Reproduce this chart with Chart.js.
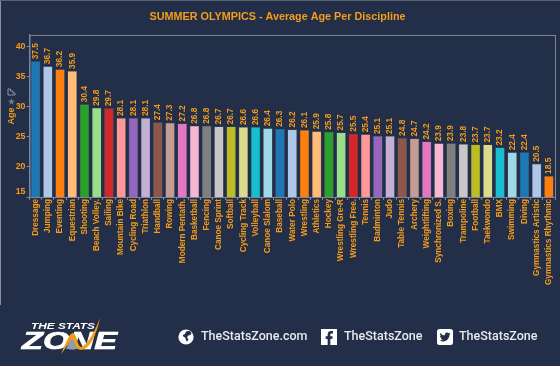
<!DOCTYPE html>
<html>
<head>
<meta charset="utf-8">
<script src="https://cdn.jsdelivr.net/npm/chart.js@4"></script>
<style>
html, body { margin: 0; padding: 0; background: #232f48; }
#wrap { position: relative; width: 560px; height: 366px; overflow: hidden; }
#chart { position: absolute; left: 0; top: 0; }
#edge { position: absolute; left: 0; top: 0; width: 1px; height: 305px; background: #8a8f98; }
#edgeTop { position: absolute; left: 0; top: 0; width: 560px; height: 1px; background: #5a6270; }
.abs { position: absolute; }
.social { position: absolute; top: 327px; font: 500 12.5px Roboto, sans-serif; color: #e8eaee; line-height: 18px; white-space: nowrap; }
</style>
</head>
<body>
<div id="wrap">
    <canvas id="chart" width="560" height="366"></canvas>
    <div id="edge"></div>
    <div id="edgeTop"></div>

    <!-- little sort and pin icons above the axis title -->
    <svg class="abs" style="left:7px;top:88px" width="9" height="18" viewBox="0 0 9 18">
        <path d="M1 1v6h7V5H6V3H3.500V1z" fill="none" stroke="#8d96a6" stroke-width="1"/>
        <path d="M4.500 10l1 2.500 2.500.3-2 1.500.5 2.500-2-1.500-2 1.500.5-2.500-2-1.500 2.500-.3z" fill="#6f7888"/>
    </svg>

    <!-- logo -->
    <svg class="abs" style="left:0;top:310px" width="130" height="56" viewBox="0 310 130 56">
        <text x="31" y="329" textLength="64" lengthAdjust="spacingAndGlyphs" font-family="Liberation Sans" font-weight="bold" font-style="italic" font-size="9" fill="#fff">THE STATS</text>
        <text x="22" y="349" textLength="95" lengthAdjust="spacingAndGlyphs" font-family="Liberation Sans" font-weight="bold" font-style="italic" font-size="23" fill="#fff" stroke="#fff" stroke-width="0.7">ZONE</text>
        <path d="M66 349L70 340L74 337L79 349Z" fill="#8d9ab0"/>
        <path d="M61 354C65 345 69 333 73 333C77 334 77 346 81 347C87 346 95 331 100 318C97 333 90 350 81 350C75 350 74 339 72 339C69 341 65 350 61 354Z" fill="#f59c1a"/>
    </svg>

    <!-- social row -->
    <svg class="abs" style="left:178px;top:329px" width="16" height="16" viewBox="0 0 16 16">
        <circle cx="8" cy="8" r="7.600" fill="#fff"/>
        <path d="M8 2.500l3.500-.8 2 2.300-1 1.800-2.500 1-1 1.700 1.500 1.700-1.500 2.500-1-1.500-.8-2.700-1.700-.8-.8-1.700 2.300-1z" fill="#232f48"/>
    </svg>
    <div class="social" style="left:201px">TheStatsZone.com</div>
    <svg class="abs" style="left:321px;top:329px" width="16" height="16" viewBox="0 0 24 24">
        <rect width="24" height="24" fill="#fff"/>
        <path d="M14 24v-9h3l.5-4H14V8.500c0-1.100.4-1.900 2-1.900h2V3.100C17.600 3 16.400 3 15 3c-2.900 0-5 1.800-5 5v3H7v4h3v9z" fill="#232f48"/>
    </svg>
    <div class="social" style="left:344px">TheStatsZone</div>
    <svg class="abs" style="left:437px;top:329px" width="16" height="16" viewBox="0 0 16 16">
        <rect width="16" height="16" rx="2.500" fill="#fff"/>
        <path transform="translate(2.500 2.500) scale(.46)" d="M23.953 4.570a10 10 0 01-2.825.775 4.958 4.958 0 002.163-2.723c-.951.555-2.005.959-3.127 1.184a4.920 4.920 0 00-8.384 4.482C7.690 8.095 4.067 6.130 1.640 3.162a4.822 4.822 0 00-.666 2.475c0 1.710.870 3.213 2.188 4.096a4.904 4.904 0 01-2.228-.616v.060a4.923 4.923 0 003.946 4.827 4.996 4.996 0 01-2.212.085 4.936 4.936 0 004.604 3.417 9.867 9.867 0 01-6.102 2.105c-.390 0-.779-.023-1.170-.067a13.995 13.995 0 007.557 2.209c9.053 0 13.998-7.496 13.998-13.985 0-.210 0-.420-.015-.630A9.935 9.935 0 0024 4.590z" fill="#232f48"/>
    </svg>
    <div class="social" style="left:459px">TheStatsZone</div>
</div>

<script>
const disciplines = ['Dressage', 'Jumping', 'Eventing', 'Equestrian', 'Shooting', 'Beach Volley.', 'Sailing', 'Mountain Bike',
    'Cycling Road', 'Triathlon', 'Handball', 'Rowing', 'Modern Pentath.', 'Basketball', 'Fencing', 'Canoe Sprint', 'Softball',
    'Cycling Track', 'Volleyball', 'Canoe Slalom', 'Baseball', 'Water Polo', 'Wrestling', 'Athletics', 'Hockey', 'Wrestling Gre-R',
    'Wrestling Free.', 'Tennis', 'Badminton', 'Judo', 'Table Tennis', 'Archery', 'Weightlifting', 'Synchronized S.', 'Boxing',
    'Trampoline', 'Football', 'Taekwondo', 'BMX', 'Swimming', 'Diving', 'Gymnastics Artistic', 'Gymnastics Rhythmic'];
const avgAge = [37.5, 36.7, 36.2, 35.9, 30.4, 29.8, 29.7, 28.1, 28.1, 28.1, 27.4, 27.3, 27.2, 26.8, 26.8, 26.7, 26.7, 26.6, 26.6,
    26.4, 26.3, 26.2, 26.1, 25.9, 25.8, 25.7, 25.5, 25.4, 25.1, 25.1, 24.8, 24.7, 24.2, 23.9, 23.9, 23.8, 23.7, 23.7, 23.2, 22.4,
    22.4, 20.5, 18.5];
const palette = ['#1f77b4', '#aec7e8', '#ff7f0e', '#ffbb78', '#2ca02c', '#98df8a', '#d62728', '#ff9896', '#9467bd', '#c5b0d5',
    '#8c564b', '#c49c94', '#e377c2', '#f7b6d2', '#7f7f7f', '#c7c7c7', '#bcbd22', '#dbdb8d', '#17becf', '#9edae5'];
const ageTicks = [15, 20, 25, 30, 35, 40];

const ORANGE = '#f59c1a';
const AXIS = '#7d8799';
const FONT = '"Liberation Sans", Arial, sans-serif';

// no datalabels plugin here, so the rotated values are drawn by hand
const barValues = {
    id: 'barValues',
    afterDatasetsDraw(chart) {
        const ctx = chart.ctx;
        const meta = chart.getDatasetMeta(0);
        ctx.save();
        ctx.fillStyle = ORANGE;
        ctx.font = 'bold 8.3px ' + FONT;
        ctx.textAlign = 'left';
        ctx.textBaseline = 'middle';
        meta.data.forEach((bar, i) => {
            ctx.save();
            ctx.translate(bar.x, bar.y - 2);
            ctx.rotate(-Math.PI / 2);
            ctx.fillText(avgAge[i].toFixed(1), 0, 0);
            ctx.restore();
        });
        ctx.restore();
    }
};

const frame = {
    id: 'frame',
    beforeDraw(chart) {
        // lowest tick label sits above its tick, as in the original
        const items = chart.scales.y.getLabelItems();
        if (items[0] && !items[0].moved) {
            items[0].options.translation[1] -= 5;
            items[0].moved = true;
        }
    },
    afterDraw(chart) {
        const a = chart.chartArea;
        const ctx = chart.ctx;
        ctx.save();
        ctx.strokeStyle = AXIS;
        ctx.lineWidth = 1;
        ctx.strokeRect(a.left + 0.5, a.top + 0.5, a.right - a.left, a.bottom - a.top);
        ctx.restore();
    }
};

new Chart(document.getElementById('chart').getContext('2d'), {
    type: 'bar',
    data: {
        labels: disciplines,
        datasets: [{
            data: avgAge,
            backgroundColor: disciplines.map((d, i) => palette[i % palette.length]),
            borderColor: 'rgba(125,135,153,0.5)',
            borderWidth: 0.5,
            barPercentage: 0.78,
            categoryPercentage: 1
        }]
    },
    options: {
        responsive: false,
        animation: false,
        layout: { padding: { right: 5, top: 0, left: 0, bottom: 0 } },
        plugins: {
            legend: { display: false },
            tooltip: { enabled: false },
            title: {
                display: true,
                text: 'SUMMER OLYMPICS - Average Age Per Discipline',
                color: ORANGE,
                font: { family: FONT, size: 10.8, weight: 'bold' },
                padding: { top: 11, bottom: 11 }
            }
        },
        scales: {
            x: {
                grid: { display: true, drawOnChartArea: false, color: AXIS, tickLength: 3 },
                border: { color: AXIS },
                ticks: {
                    autoSkip: false,
                    maxRotation: 90,
                    minRotation: 90,
                    color: ORANGE,
                    padding: -1,
                    font: { family: FONT, size: 8.2, weight: 'bold' }
                },
                afterFit(scale) { scale.height = 169; }
            },
            y: {
                min: 15,
                max: 41.87,
                afterBuildTicks(scale) { scale.ticks = ageTicks.map(v => ({ value: v })); },
                grid: { display: true, drawOnChartArea: false, color: AXIS, tickLength: 3 },
                border: { color: AXIS },
                title: {
                    display: true,
                    text: 'Age',
                    color: ORANGE,
                    font: { family: FONT, size: 9, weight: 'bold' },
                    padding: { top: 6, bottom: 0 }
                },
                ticks: {
                    color: ORANGE,
                    padding: 1,
                    font: { family: FONT, size: 8.8, weight: 'bold' }
                },
                afterFit(scale) { scale.width = 29.5; }
            }
        }
    },
    plugins: [barValues, frame]
});
</script>
</body>
</html>
